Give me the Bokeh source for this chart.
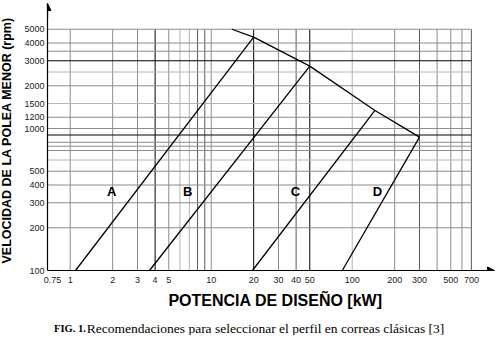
import math
from bokeh.plotting import figure
from bokeh.layouts import column, row
from bokeh.models import ColumnDataSource, FixedTicker, Arrow, NormalHead
from bokeh.core.properties import value
from bokeh.embed import file_html
from bokeh.resources import INLINE

# ---------------- data ----------------
x_ticks = [0.75, 1, 2, 3, 4, 5, 10, 20, 30, 40, 50, 100, 200, 300, 500, 700]
x_tick_labels = ["0.75", "1", "2", "3", "4", "5", "10", "20", "30", "40", "50",
                 "100", "200", "300", "500", "700"]
y_ticks = [100, 200, 300, 400, 500, 1000, 1200, 1500, 2000, 3000, 4000, 5000]
y_tick_labels = ["100", "200", "300", "400", "500", "1000", "1200", "1500",
                 "2000", "3000", "4000", "5000"]

v_grid = [1, 2, 3, 4, 5, 6, 7, 8, 9, 10, 20, 30, 40, 50, 100, 200, 300, 400, 500, 600, 700]
v_grid_kind = ["m", "m", "m", "k", "m", "l", "l", "d", "d", "m", "k", "m", "d", "k",
               "l", "m", "d", "m", "m", "m", "d"]
h_grid = [200, 300, 400, 500, 600, 700, 750, 800, 900, 1000, 1200, 1500, 2000,
          2500, 3000, 3500, 4000, 5000]
h_grid_kind = ["m", "m", "m", "m", "l", "m", "m", "m", "k", "m", "m", "l", "m",
               "l", "k", "m", "m", "m"]
grid_kw_min, grid_kw_max = 0.69, 700
grid_rpm_min, grid_rpm_max = 100, 5000

profiles = ["A", "B", "C", "D"]
profile_kw_low = [1.09, 3.65, 19.6, 85]
profile_rpm_low = [100, 100, 100, 100]
profile_kw_high = [20, 50, 145, 300]
profile_rpm_high = [4400, 2750, 1340, 870]
label_kw = [1.97, 6.8, 39.6, 151]
label_rpm = [362, 362, 362, 362]

limit_kw = [14, 20, 50, 145, 300]
limit_rpm = [5000, 4400, 2750, 1340, 870]

x_title = "POTENCIA DE DISEÑO [kW]"
y_title = "VELOCIDAD DE LA POLEA MENOR (rpm)"
caption_parts = ["FIG. 1.", "Recomendaciones para seleccionar el perfil en correas clásicas [3]"]

# ---------------- main figure ----------------
x_lo, x_hi = 0.69, 1021
y_lo, y_hi = 100, 7592
H = 287

p = figure(width=480, height=H, x_axis_type="log", y_axis_type="log",
           x_range=(x_lo, x_hi), y_range=(y_lo, y_hi),
           output_backend="svg", toolbar_location=None,
           min_border_left=32, min_border_right=1, min_border_top=3, min_border_bottom=17)
p.outline_line_color = None
p.grid.visible = False
p.background_fill_color = "white"
p.border_fill_color = "white"

kind_color = {"k": "#000000", "d": "#5a5a5a", "m": "#8c8c8c", "l": "#b4b4b4"}

vsrc = ColumnDataSource(dict(
    x0=v_grid, x1=v_grid,
    y0=[grid_rpm_min] * len(v_grid), y1=[grid_rpm_max] * len(v_grid),
    c=[kind_color[k] for k in v_grid_kind]))
p.segment("x0", "y0", "x1", "y1", source=vsrc, line_color="c", line_width=1)

hsrc = ColumnDataSource(dict(
    x0=[grid_kw_min] * len(h_grid), x1=[grid_kw_max] * len(h_grid),
    y0=h_grid, y1=h_grid,
    c=[kind_color[k] for k in h_grid_kind]))
p.segment("x0", "y0", "x1", "y1", source=hsrc, line_color="c", line_width=1)

psrc = ColumnDataSource(dict(x0=profile_kw_low, y0=profile_rpm_low,
                             x1=profile_kw_high, y1=profile_rpm_high))
p.segment("x0", "y0", "x1", "y1", source=psrc, line_color="black", line_width=1.3)
p.line(limit_kw, limit_rpm, line_color="black", line_width=1.3)

lsrc = ColumnDataSource(dict(x=label_kw, y=label_rpm, t=profiles))
p.text("x", "y", text="t", source=lsrc, text_font=value("Liberation Sans"),
       text_font_size="13px", text_font_style="bold", text_align="center",
       text_baseline="middle", text_color="black")

for ax, ticks, labels in ((p.xaxis[0], x_ticks, x_tick_labels), (p.yaxis[0], y_ticks, y_tick_labels)):
    ax.ticker = FixedTicker(ticks=ticks, minor_ticks=[])
    ax.major_label_overrides = {t: l for t, l in zip(ticks, labels)}
    ax.major_tick_line_color = None
    ax.minor_tick_line_color = None
    ax.major_tick_in = 0
    ax.major_tick_out = 0
    ax.axis_line_color = "black"
    ax.axis_line_width = 1.2
    ax.major_label_text_font = "Liberation Sans"
    ax.major_label_text_font_size = "9px"
    ax.major_label_text_color = "#222222"
p.xaxis.major_label_standoff = 6
p.yaxis.major_label_standoff = 3

p.add_layout(Arrow(end=NormalHead(size=7, fill_color="black", line_color="black"),
                   x_start=x_lo, y_start=6000, x_end=x_lo, y_end=y_hi,
                   line_color="black", line_width=1.2))
p.add_layout(Arrow(end=NormalHead(size=7, fill_color="black", line_color="black"),
                   x_start=800, y_start=y_lo, x_end=x_hi, y_end=y_lo,
                   line_color="black", line_width=1.2))

# ---------------- y title strip ----------------
yt = figure(width=15, height=H, x_range=(0, 15), y_range=(0, H),
            output_backend="svg", toolbar_location=None,
            x_axis_location=None, y_axis_location=None,
            min_border_left=0, min_border_right=0, min_border_top=0, min_border_bottom=0)
yt.grid.visible = False
yt.outline_line_color = None
yt.text(x=[6.5], y=[140], text=[y_title], angle=math.pi / 2,
        text_font=value("Liberation Sans"), text_font_size="12.5px",
        text_font_style="bold", text_align="center", text_baseline="middle",
        text_color="black")

# ---------------- x title + caption strip ----------------
CH = 335 - H
cap = figure(width=495, height=CH, x_range=(0, 495), y_range=(CH, 0),
             output_backend="svg", toolbar_location=None,
             x_axis_location=None, y_axis_location=None,
             min_border_left=0, min_border_right=0, min_border_top=0, min_border_bottom=0)
cap.grid.visible = False
cap.outline_line_color = None
cap.text(x=[275], y=[12.5], text=[x_title], text_font=value("Liberation Sans"),
         text_font_size="16px", text_font_style="bold", text_align="center",
         text_baseline="alphabetic", text_color="black")
cap_x = [53.5, 86.3]
cap_size = ["10.5px", "13.5px"]
cap_style = ["bold", "normal"]
csrc = ColumnDataSource(dict(x=cap_x, y=[41] * 2, t=caption_parts, s=cap_size, f=cap_style))
cap.text("x", "y", text="t", source=csrc, text_font=value("Liberation Serif"),
         text_font_size="s", text_font_style="f", text_align="left",
         text_baseline="alphabetic", text_color="black")

layout = column(row(yt, p, spacing=0), cap, spacing=0)
open("out.html", "w").write(file_html(layout, INLINE))
